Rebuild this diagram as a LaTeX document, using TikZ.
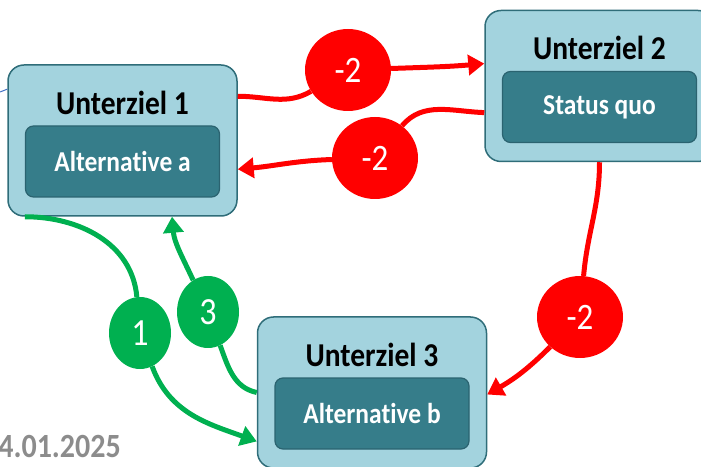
\documentclass[tikz,border=0pt]{standalone}
\usepackage{fontspec}
\setmainfont{Carlito}[RawFeature=-liga]
\usetikzlibrary{arrows.meta,shapes.geometric,positioning}
\definecolor{goalfill}{HTML}{A3D3DE}
\definecolor{goalline}{HTML}{2F6D79}
\definecolor{altfill}{HTML}{367D8A}
\definecolor{altline}{HTML}{2B6370}
\definecolor{redarrow}{HTML}{FF0000}
\definecolor{greenarrow}{HTML}{00B050}
\definecolor{dategray}{HTML}{8C8C8C}
\definecolor{thinblue}{HTML}{4472C4}
\newcommand\tallbox[1]{\scalebox{1}[1.13]{#1}}
\begin{document}
\begin{tikzpicture}
  [x=1pt,y=1pt,
   goal/.style={draw=goalline,fill=goalfill,line width=1.5pt,rounded corners=16pt,
     minimum width=229pt,minimum height=151pt},
   goaltitle/.style={font=\fontsize{29.5}{29.5}\selectfont\bfseries},
   altbox/.style={draw=altline,fill=altfill,line width=1.2pt,rounded corners=8pt,
     minimum width=194pt,minimum height=71pt,text=white,font=\fontsize{25.5}{25.5}\selectfont\bfseries},
   redball/.style={ellipse,fill=redarrow,text=white,minimum width=86pt,minimum height=82pt,
     inner sep=0pt,font=\fontsize{33}{33}\selectfont},
   greenball/.style={ellipse,fill=greenarrow,text=white,minimum width=62pt,minimum height=72pt,
     inner sep=0pt,font=\fontsize{34}{34}\selectfont},
   redline/.style={draw=redarrow,line width=5pt,-{Triangle[length=16pt,width=20pt]}},
   greenline/.style={draw=greenarrow,line width=5pt,-{Triangle[length=16pt,width=20pt]}}]
  \useasboundingbox (0,0) rectangle (701,466);
  \clip (0,0) rectangle (701,466);

  \foreach \n/\x/\y/\t/\a in {u1/122.5/325.5/Unterziel 1/Alternative a,
      u2/599.5/380/Unterziel 2/Status quo,
      u3/372/73.5/Unterziel 3/Alternative b} {
    \node[goal] (\n) at (\x,\y) {};
    \node[goaltitle] (\n t) at ([yshift=38pt]\n.center) {\tallbox{\t}};
    \node[altbox] (\n a) at ([yshift=-21pt]\n.center) {\tallbox{\a}};
  }

  \node[redball] (r1) at (348,396) {\tallbox{-2}};
  \node[redball] (r2) at (375,308) {\tallbox{-2}};
  \node[redball] (r3) at (580,149) {\tallbox{-2}};
  \node[greenball] (g1) at (140,133) {\tallbox{1}};
  \node[greenball] (g3) at (208,154) {\tallbox{3}};

  \node[anchor=base east,text=dategray,font=\fontsize{30}{30}\selectfont\bfseries,inner sep=0pt]
    (date) at (121,9) {\tallbox{4.01.2025}};
  \coordinate (ext) at (0,374);

  % connections
  \draw[redline] (u1.21) to[out=0,in=210] (r1) to[out=2,in=185] (u2.169);
  \draw[redline] (u2.193) to[out=178,in=50] (r2) to[out=182,in=5] (u1.-14);
  \draw[redline] (u2.south) to[out=-90,in=85] (r3) to[out=225,in=30] (u3.-1);
  \draw[greenline] (u1.218) to[out=0,in=95] (g1) to[out=-70,in=160] (u3.203);
  \draw[greenline] (u3.west) to[out=168,in=-70] (g3) to[out=115,in=-85] (u1.-57);
  \draw[thinblue,line width=1pt] (ext) -- (u1.156);
\end{tikzpicture}
\end{document}
